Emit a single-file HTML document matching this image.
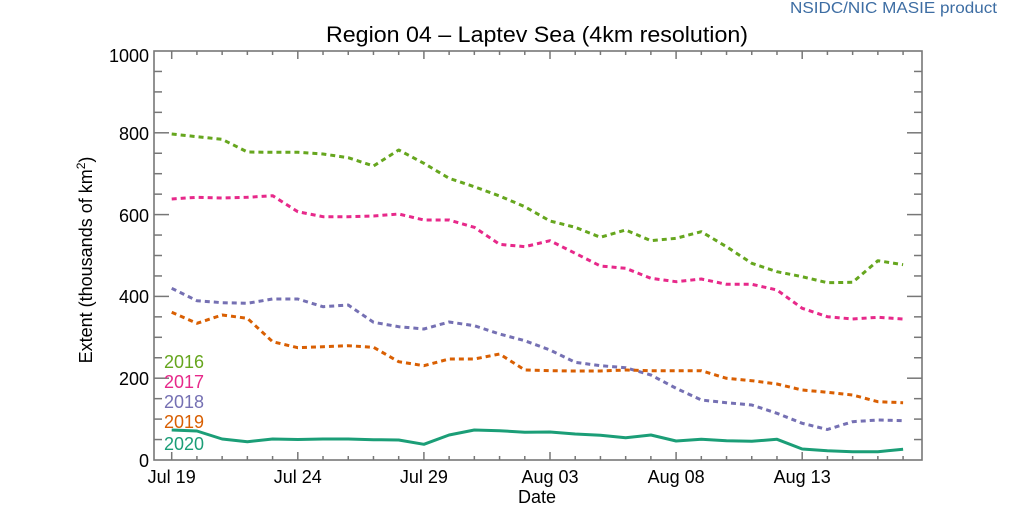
<!DOCTYPE html>
<html><head><meta charset="utf-8"><style>
html,body{margin:0;padding:0;background:#fff;}
svg{display:block;font-family:"Liberation Sans",Arial,sans-serif;}
</style></head><body>
<svg id="c" width="1024" height="512" viewBox="0 0 1024 512" xmlns="http://www.w3.org/2000/svg">
<rect width="1024" height="512" fill="#fff"/>
<text x="997" y="13" font-size="16" fill="#3d6da3" text-anchor="end" textLength="207" lengthAdjust="spacingAndGlyphs">NSIDC/NIC MASIE product</text>
<text x="537" y="42" font-size="22" fill="#000" text-anchor="middle" textLength="422" lengthAdjust="spacingAndGlyphs">Region 04 – Laptev Sea (4km resolution)</text>
<g id="ticks" stroke="#777" stroke-width="1.5" fill="none"></g>
<rect x="154" y="51" width="768" height="409" fill="none" stroke="#777" stroke-width="1.6"/>
<g id="lines" fill="none" stroke-linejoin="round"></g>
<g font-size="18" fill="#000" text-anchor="end">
<text x="149" y="62">1000</text>
<text x="149" y="140">800</text>
<text x="149" y="222">600</text>
<text x="149" y="303">400</text>
<text x="149" y="385">200</text>
<text x="149" y="467">0</text>
</g>
<g font-size="18" fill="#000" text-anchor="middle">
<text x="171.7" y="483">Jul 19</text>
<text x="297.8" y="483">Jul 24</text>
<text x="423.9" y="483">Jul 29</text>
<text x="550" y="483">Aug 03</text>
<text x="676.1" y="483">Aug 08</text>
<text x="802.2" y="483">Aug 13</text>
<text x="537" y="503">Date</text>
</g>
<text transform="translate(92,260) rotate(-90)" font-size="18" text-anchor="middle" fill="#000">Extent (thousands of km<tspan dy="-7" font-size="12">2</tspan><tspan dy="7">)</tspan></text>
<g font-size="18">
<text x="164" y="368" fill="#66a61e">2016</text>
<text x="164" y="388" fill="#e7298a">2017</text>
<text x="164" y="408" fill="#7570b3">2018</text>
<text x="164" y="428" fill="#d95f02">2019</text>
<text x="164" y="450" fill="#1b9e77">2020</text>
</g>
</svg>
<script>
(function(){
var NS="http://www.w3.org/2000/svg";
var t=document.getElementById("ticks");
function ln(x1,y1,x2,y2){var l=document.createElementNS(NS,"line");l.setAttribute("x1",x1);l.setAttribute("y1",y1);l.setAttribute("x2",x2);l.setAttribute("y2",y2);t.appendChild(l);}
for(var i=0;i<30;i++){var x=171.7+25.22*i;var L=(i%5==0)?8:4;ln(x,460,x,460-L);ln(x,51,x,51+L);}
for(var v=50;v<1000;v+=50){var y=460-v*0.409;var L=(v%200==0)?15:8;ln(154,y,154+L,y);ln(922,y,922-L,y);}
var g=document.getElementById("lines");
var data=[
["#66a61e",true,[134,136.7,139.3,152,152.3,152.3,154,157.7,166,150,163.3,178.3,186.7,196,206.7,221,227.3,237.3,230,240.7,238.3,231.7,246.7,263.3,271.7,276.7,282.7,282.3,260.7,264.7]],
["#e7298a",true,[199,197.3,198,197.3,195.7,211.7,216.7,216.7,216,214,220,220,227.3,244.3,246.7,240.7,253.3,266,268.3,278.3,281.7,279,284.3,284.3,290,308.3,316.7,319,317.3,319]],
["#7570b3",true,[288.3,300.7,302.7,303.3,299,299,306.7,305,322.3,326.7,329,322,325.7,334,340.7,350,362.3,365.7,367.7,375,388.3,400,402.7,405,413.3,423.3,429.5,421.7,420,420.7]],
["#d95f02",true,[312.3,323.3,315,318.3,341.7,347.7,346.7,345.7,347.3,361.7,365.7,359,359,354,370,370.7,371,371,370,370.7,370.7,370.7,378.3,380.7,384,390,392.3,395,401.7,402.7]],
["#1b9e77",false,[430,431,439,441.7,439,439.5,439,439,439.7,440,444.3,435,430,430.7,432.3,432,434,435.3,437.7,435,441,439.3,440.7,441.3,439.3,449,450.7,451.7,451.7,449.3]]
];
data.forEach(function(d){
var p=document.createElementNS(NS,"polyline");
var pts=d[2].map(function(y,i){return (171.7+25.22*i).toFixed(1)+","+y;}).join(" ");
p.setAttribute("points",pts);p.setAttribute("stroke",d[0]);p.setAttribute("stroke-width","3");
if(d[1])p.setAttribute("stroke-dasharray","5 4");
g.appendChild(p);
});
})();
</script>
</body></html>
